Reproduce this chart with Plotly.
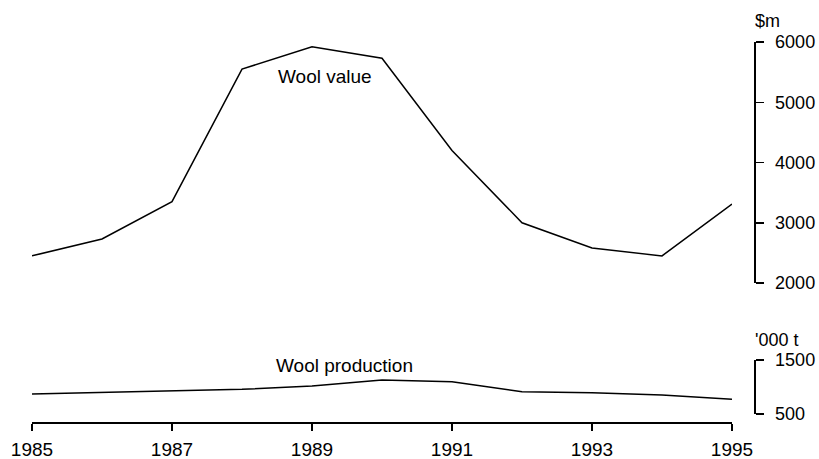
import plotly.graph_objects as go

years = [1985, 1986, 1987, 1988, 1989, 1990, 1991, 1992, 1993, 1994, 1995]
wool_value = [2450, 2730, 3350, 5550, 5920, 5730, 4200, 3000, 2580, 2450, 3310]
wool_production = [870, 900, 925, 957, 1018, 1129, 1098, 913, 894, 852, 772]
x_ticks = [1985, 1987, 1989, 1991, 1993, 1995]
value_ticks = [2000, 3000, 4000, 5000, 6000]
prod_ticks = [500, 1500]

FONT = "Liberation Sans, Arial, sans-serif"

fig = go.Figure()
fig.add_trace(go.Scatter(x=years, y=wool_value, mode="lines",
                         line=dict(color="black", width=1.5),
                         xaxis="x", yaxis="y", showlegend=False, hoverinfo="skip"))
fig.add_trace(go.Scatter(x=years, y=wool_production, mode="lines",
                         line=dict(color="black", width=1.5),
                         xaxis="x", yaxis="y2", showlegend=False, hoverinfo="skip"))

W, H = 819, 459
ml, mr, mt, mb = 32, 65, 42, 36
pw = W - ml - mr
ph = H - mt - mb

def ypix(p):
    return (H - mb - p) / ph

def xpix(p):
    return (p - ml) / pw

fig.update_layout(
    width=W, height=H,
    margin=dict(l=ml, r=mr, t=mt, b=mb, autoexpand=False),
    plot_bgcolor="white", paper_bgcolor="white",
    font=dict(family=FONT, size=17, color="black"),
    xaxis=dict(domain=[0, 700 / pw], range=[years[0], years[-1]],
               anchor="free", position=0, automargin=False,
               showgrid=False, zeroline=False, showline=True, linecolor="black", linewidth=2,
               tickvals=x_ticks, ticktext=[str(t) for t in x_ticks],
               ticks="outside", ticklen=7, tickcolor="black", tickwidth=1.5,
               ticklabelstandoff=2, tickfont=dict(size=19), fixedrange=True),
    yaxis=dict(domain=[ypix(283), ypix(42)], range=[value_ticks[0], value_ticks[-1]],
               anchor="free", position=1, side="right", automargin=False,
               showgrid=False, zeroline=False, showline=True, linecolor="black", linewidth=1.5,
               tickvals=value_ticks, ticks="outside", ticklen=8, tickcolor="black", tickwidth=1.5,
               ticklabelstandoff=8, tickfont=dict(size=18)),
    yaxis2=dict(domain=[ypix(414), ypix(360)], range=[prod_ticks[0], prod_ticks[-1]],
                anchor="free", position=1, side="right", automargin=False,
                showgrid=False, zeroline=False, showline=True, linecolor="black", linewidth=1.5,
                tickvals=prod_ticks, ticks="outside", ticklen=8, tickcolor="black", tickwidth=1.5,
                ticklabelstandoff=8, tickfont=dict(size=18)),
)

fig.add_annotation(text="Wool value", x=1989.18, y=5420, xref="x", yref="y",
                   showarrow=False, font=dict(size=19))
fig.add_annotation(text="Wool production", x=1989.47, y=1406, xref="x", yref="y2",
                   showarrow=False, font=dict(size=19))
fig.add_annotation(text="$m", x=xpix(753), y=ypix(21), xref="paper", yref="paper",
                   xanchor="left", yanchor="middle", showarrow=False, font=dict(size=18))
fig.add_annotation(text="'000 t", x=xpix(753), y=ypix(340), xref="paper", yref="paper",
                   xanchor="left", yanchor="middle", showarrow=False, font=dict(size=18))

fig.write_html("out.html", post_script="document.body.style.margin='0';",
               config={"displayModeBar": False, "staticPlot": True})
